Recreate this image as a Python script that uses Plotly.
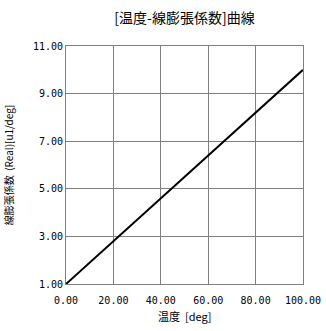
import plotly.graph_objects as go

temperature = [0, 20, 40, 60, 80, 100]
expansion = [1.0, 2.8, 4.6, 6.4, 8.2, 10.0]
x_ticks = [0, 20, 40, 60, 80, 100]
y_ticks = [1, 3, 5, 7, 9, 11]

fig = go.Figure()
fig.add_trace(go.Scatter(x=temperature, y=expansion, mode="lines",
                         line=dict(color="black", width=2), showlegend=False))

tickfont = dict(family="DejaVu Sans Mono", size=10, color="black")
fig.update_layout(
    width=326, height=331,
    margin=dict(l=66, r=23, t=46, b=47),
    paper_bgcolor="white", plot_bgcolor="white",
    title=dict(text="[温度-線膨張係数]曲線", x=0.566, xanchor="center", y=0.945, yanchor="middle",
               font=dict(family="Noto Sans CJK JP", size=14, color="black")),
    xaxis=dict(range=[0, 100], tickvals=x_ticks, ticktext=[f"{v:.2f}" for v in x_ticks],
               showgrid=True, gridcolor="#808080", gridwidth=1, automargin=False,
               showline=True, linecolor="#808080", linewidth=1, mirror=True,
               zeroline=False, tickfont=tickfont, ticks="", ticklabelstandoff=7),
    yaxis=dict(range=[1, 11], tickvals=y_ticks, ticktext=[f"{v:.2f}" for v in y_ticks],
               showgrid=True, gridcolor="#808080", gridwidth=1, automargin=False,
               showline=True, linecolor="#808080", linewidth=1, mirror=True,
               zeroline=False, tickfont=tickfont, ticks="",
               title=dict(text="線膨張係数\u00a0\u00a0(Real)[u1/deg]", standoff=17,
                          font=dict(family="Noto Sans CJK JP", size=10, color="black"))),
    annotations=[dict(text="温度\u00a0\u00a0[deg]", xref="paper", yref="paper",
                      x=0.5, y=-0.133, xanchor="center", yanchor="middle", showarrow=False,
                      font=dict(family="Noto Sans CJK JP", size=11, color="black"))],
)
fig.write_html("out.html")
